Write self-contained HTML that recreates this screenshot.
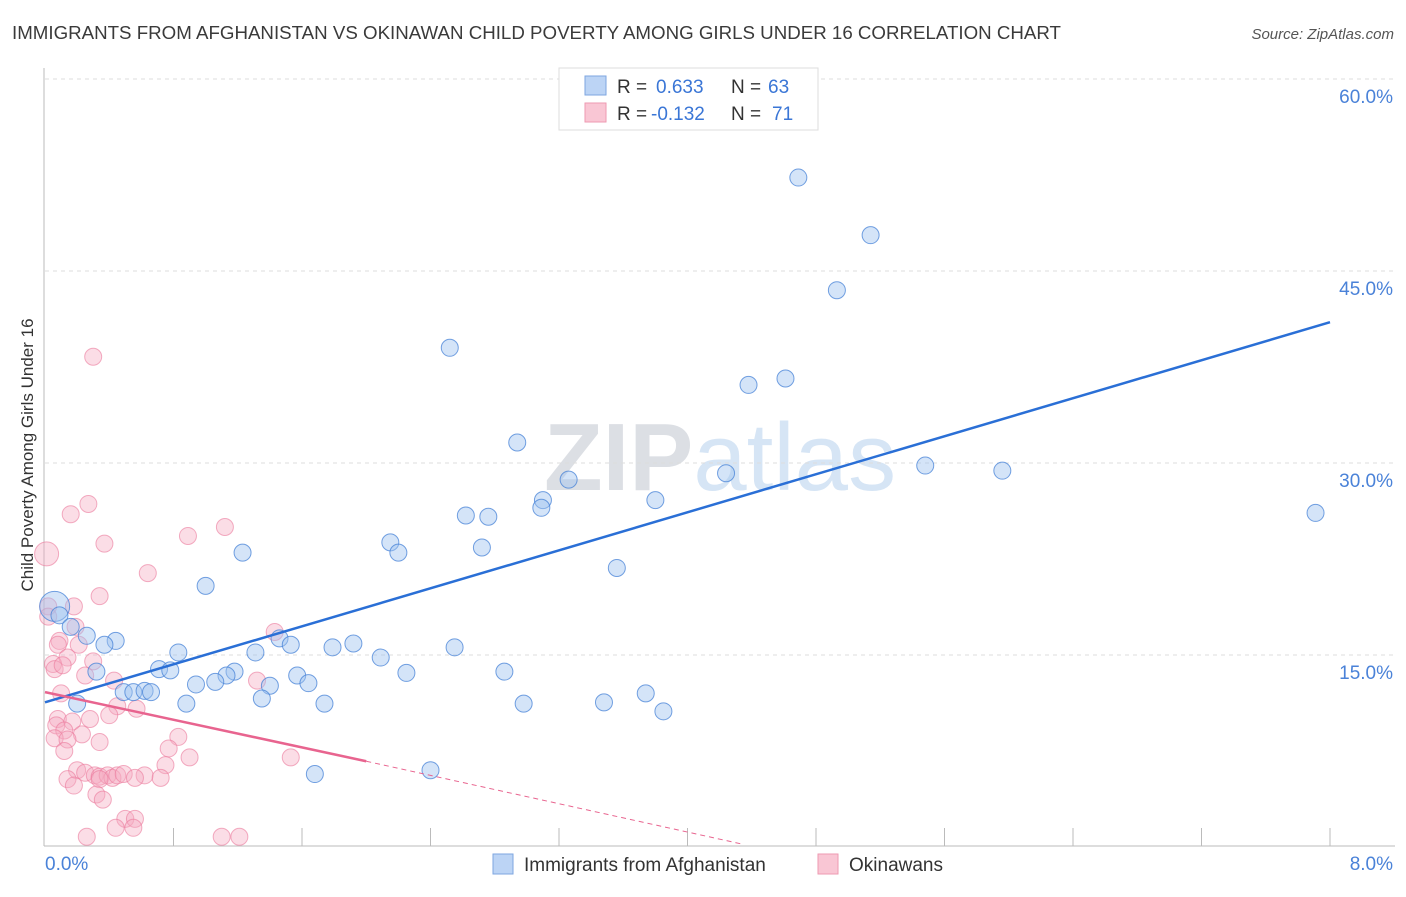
<!DOCTYPE html>
<html><head><meta charset="utf-8"><style>
body{margin:0;background:#fff;font-family:"Liberation Sans",sans-serif;}
svg text{font-family:"Liberation Sans",sans-serif;}
</style></head><body>
<svg id="chart" width="1406" height="892" xmlns="http://www.w3.org/2000/svg">
<text x="12" y="39" font-size="18" fill="#3a3a3a" textLength="1049" lengthAdjust="spacingAndGlyphs">IMMIGRANTS FROM AFGHANISTAN VS OKINAWAN CHILD POVERTY AMONG GIRLS UNDER 16 CORRELATION CHART</text>
<text x="1394" y="39" font-size="15" fill="#555" font-style="italic" text-anchor="end">Source: ZipAtlas.com</text>
<text x="720" y="490" font-size="96" fill="#d8dde6" text-anchor="middle" font-family="Liberation Serif"><tspan font-weight="bold" fill="#dcdfe4">ZIP</tspan><tspan fill="#d6e5f5" font-family="Liberation Sans">atlas</tspan></text>
<text transform="translate(33,455) rotate(-90)" font-size="17" fill="#333" text-anchor="middle">Child Poverty Among Girls Under 16</text>
<g id="grid"></g><g id="axes"></g><g id="pts"></g><g id="lines"></g>
<g>
<rect x="559" y="68" width="259" height="62" fill="#fff" stroke="#ddd"/>
<rect x="585" y="76" width="21" height="19" fill="#bcd4f5" stroke="#7ea6e0"/>
<rect x="585" y="103" width="21" height="19" fill="#f9c6d4" stroke="#ee9ab2"/>
<text x="617" y="93" font-size="19" fill="#333">R =</text><text x="656" y="93" font-size="19" fill="#3a76d6">0.633</text>
<text x="731" y="93" font-size="19" fill="#333">N =</text><text x="768" y="93" font-size="19" fill="#3a76d6">63</text>
<text x="617" y="120" font-size="19" fill="#333">R =</text><text x="651" y="120" font-size="19" fill="#3a76d6">-0.132</text>
<text x="731" y="120" font-size="19" fill="#333">N =</text><text x="772" y="120" font-size="19" fill="#3a76d6">71</text>
</g>
<g>
<rect x="493" y="854" width="20" height="20" fill="#bcd4f5" stroke="#7ea6e0"/>
<text x="524" y="871" font-size="19" fill="#333">Immigrants from Afghanistan</text>
<rect x="818" y="854" width="20" height="20" fill="#f9c6d4" stroke="#ee9ab2"/>
<text x="849" y="871" font-size="19" fill="#333">Okinawans</text>
</g>
</svg>
<script>
const xTicks=[0,0.8,1.6,2.4,3.2,4.0,4.8,5.6,6.4,7.2,8.0];
const yTicks=[15,30,45,60];
const yTickLabels=["15.0%","30.0%","45.0%","60.0%"];
const blueX=[4.69,5.14,4.93,2.52,4.61,4.38,2.94,3.26,4.24,3.80,5.48,5.96,7.91,3.10,3.09,2.62,2.76,2.72,2.15,2.20,1.23,3.56,1.00,0.06,0.09,0.16,0.26,0.44,0.37,1.46,1.53,1.79,1.92,2.55,0.83,1.31,2.09,0.71,0.78,1.18,1.13,0.32,1.57,2.25,2.86,1.64,0.94,1.06,1.40,0.49,0.55,0.62,0.66,1.35,0.88,0.20,1.74,2.98,3.48,3.74,3.85,1.68,2.40];
const blueY=[52.3,47.8,43.5,39.0,36.6,36.1,31.6,28.7,29.2,27.1,29.8,29.4,26.1,27.1,26.5,25.9,25.8,23.4,23.8,23.0,23.0,21.8,20.4,18.8,18.1,17.2,16.5,16.1,15.8,16.3,15.8,15.6,15.9,15.6,15.2,15.2,14.8,13.9,13.8,13.7,13.4,13.7,13.4,13.6,13.7,12.8,12.7,12.9,12.6,12.1,12.1,12.2,12.1,11.6,11.2,11.2,11.2,11.2,11.3,12.0,10.6,5.7,6.0];
const pinkX=[0.30,0.27,0.16,1.12,0.89,0.37,0.01,0.64,0.34,0.02,0.18,0.02,0.19,1.43,0.09,0.08,0.21,0.14,0.05,0.06,0.11,0.30,0.25,0.43,1.32,0.10,0.45,0.57,0.40,0.28,0.08,0.17,0.07,0.12,0.23,0.83,0.06,0.14,0.34,0.77,0.12,0.90,1.53,0.75,0.20,0.25,0.31,0.34,0.39,0.42,0.45,0.49,0.62,0.56,0.72,0.14,0.34,0.18,0.32,0.36,0.50,0.56,0.44,0.55,0.26,1.10,1.21];
const pinkY=[38.3,26.8,26.0,25.0,24.3,23.7,22.9,21.4,19.6,18.8,18.8,18.0,17.2,16.8,16.1,15.8,15.8,14.8,14.3,13.9,14.2,14.5,13.4,13.0,13.0,12.0,11.0,10.8,10.3,10.0,10.0,9.8,9.5,9.1,8.8,8.6,8.5,8.4,8.2,7.7,7.5,7.0,7.0,6.4,6.0,5.8,5.6,5.5,5.6,5.4,5.6,5.7,5.6,5.4,5.4,5.3,5.3,4.8,4.1,3.7,2.2,2.2,1.5,1.5,0.8,0.8,0.8];
const X=v=>45+v/8*1285, Y=v=>847-v/15*192;
const NS="http://www.w3.org/2000/svg";
function mk(p,t,a){const e=document.createElementNS(NS,t);for(const k in a)e.setAttribute(k,a[k]);document.getElementById(p).appendChild(e);return e;}
yTicks.forEach((v,i)=>{
 const g=mk('grid','line',{x1:45,x2:1395,y1:Y(v),y2:Y(v),stroke:'#ddd','stroke-dasharray':'4,4'});
 
 
 const t=mk('axes','text',{x:1393,y:Y(v)+24,'font-size':19,fill:'#4a82d8','text-anchor':'end'});t.textContent=yTickLabels[i];
 
 
});
mk('axes','line',{x1:44,x2:44,y1:68,y2:846,stroke:'#bbb'});
mk('axes','line',{x1:44,x2:1395,y1:846,y2:846,stroke:'#bbb'});
xTicks.forEach(v=>{if(v>0){const l=mk('axes','line',{x1:X(v),x2:X(v),y1:828,y2:846,stroke:'#bbb'});
 
 }});
let t0=mk('axes','text',{x:45,y:870,'font-size':19,fill:'#4a82d8'});t0.textContent='0.0%';


let t1=mk('axes','text',{x:1393,y:870,'font-size':19,fill:'#4a82d8','text-anchor':'end'});t1.textContent='8.0%';


pinkX.forEach((v,i)=>{const c=mk('pts','circle',{cx:X(v),cy:Y(pinkY[i]),r:i==6?12:8.5,fill:'rgba(246,170,192,0.4)',stroke:'rgba(235,120,155,0.6)','stroke-width':1});
 
 });
blueX.forEach((v,i)=>{const c=mk('pts','circle',{cx:X(v),cy:Y(blueY[i]),r:i==23?15:8.5,fill:'rgba(160,195,240,0.45)',stroke:'rgba(70,130,215,0.75)','stroke-width':1});
 
 });
const bl=mk('lines','line',{x1:X(0),y1:Y(11.3),x2:X(8),y2:Y(41.0),stroke:'#2a6fd6','stroke-width':2.5});


const pl=mk('lines','line',{x1:X(0),y1:Y(12.1),x2:X(2.0),y2:Y(6.7),stroke:'#e8648f','stroke-width':2.5});


const pd=mk('lines','line',{x1:X(2.0),y1:Y(6.7),x2:X(4.35),y2:Y(0.2),stroke:'#e8648f','stroke-width':1,'stroke-dasharray':'5,4'});


</script>
</body></html>
